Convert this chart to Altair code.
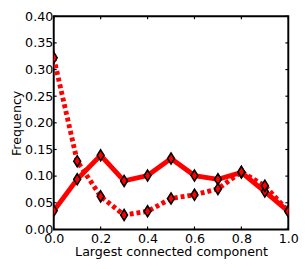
import altair as alt
import pandas as pd

x_vals = [0.0, 0.1, 0.2, 0.3, 0.4, 0.5, 0.6, 0.7, 0.8, 0.9, 1.0]
solid_vals = [0.035, 0.094, 0.139, 0.091, 0.101, 0.133, 0.101, 0.094, 0.107, 0.071, 0.034]
dotted_vals = [0.322, 0.128, 0.062, 0.027, 0.034, 0.058, 0.065, 0.076, 0.108, 0.082, 0.034]
x_ticks = [0.0, 0.2, 0.4, 0.6, 0.8, 1.0]
y_ticks = [0.0, 0.05, 0.10, 0.15, 0.20, 0.25, 0.30, 0.35, 0.40]

W, H = 241, 219

df = pd.DataFrame({
    "x": x_vals * 2,
    "y": solid_vals + dotted_vals,
    "series": ["solid"] * len(x_vals) + ["dotted"] * len(x_vals),
})
xt = pd.DataFrame({"x": x_ticks})
yt = pd.DataFrame({"y": y_ticks})

xs = alt.Scale(domain=[0, 1], nice=False, zero=False)
ys = alt.Scale(domain=[0, 0.4], nice=False, zero=False)

xaxis = alt.Axis(values=x_ticks, format=".1f", title="Largest connected component",
                 tickSize=0, domain=False, grid=False, labelPadding=3, titlePadding=1,
                 labelFlush=False, labelOverlap=False)
yaxis = alt.Axis(values=y_ticks, format=".2f", title="Frequency",
                 tickSize=0, domain=False, grid=False, labelPadding=1, titlePadding=1,
                 labelOverlap=False, labelFlush=False)

X = lambda f: alt.X(f, scale=xs, axis=xaxis)
Y = lambda f: alt.Y(f, scale=ys, axis=yaxis)

base = alt.Chart(df)

solid = base.transform_filter(alt.datum.series == "solid").mark_line(
    color="#ff0000", strokeWidth=5, clip=True
).encode(x=X("x:Q"), y=Y("y:Q"))

dotted = base.transform_filter(alt.datum.series == "dotted").mark_line(
    color="#ff0000", strokeWidth=5, strokeDash=[4, 3], clip=True
).encode(x=X("x:Q"), y=Y("y:Q"))

diamond = "M0,-1L0.62,0L0,1L-0.62,0Z"
pts = base.mark_point(
    shape=diamond, size=130, filled=True, fill="#ff0000", stroke="black",
    strokeWidth=1.6, opacity=1, clip=True
).encode(x=X("x:Q"), y=Y("y:Q"))

tb = alt.Chart(xt).mark_rule(color="black", strokeWidth=1.2).encode(
    x=X("x:Q"), y=alt.value(H), y2=alt.value(H - 3))
tt = alt.Chart(xt).mark_rule(color="black", strokeWidth=1.2).encode(
    x=X("x:Q"), y=alt.value(0), y2=alt.value(3))
tl = alt.Chart(yt).mark_rule(color="black", strokeWidth=1.2).encode(
    y=Y("y:Q"), x=alt.value(0), x2=alt.value(3))
tr = alt.Chart(yt).mark_rule(color="black", strokeWidth=1.2).encode(
    y=Y("y:Q"), x=alt.value(W), x2=alt.value(W - 3))

chart = alt.layer(solid, dotted, pts, tb, tt, tl, tr).properties(
    width=W, height=H,
    autosize=alt.AutoSizeParams(type="none"),
    padding={"left": 47, "top": 5, "right": 11, "bottom": 30},
).configure_view(
    stroke="black", strokeWidth=2
).configure_axis(
    labelFont="DejaVu Sans", titleFont="DejaVu Sans", labelFontSize=13,
    titleFontSize=13, labelColor="black", titleColor="black", titleFontWeight="normal"
)

chart.save("out.html", embed_options={"renderer": "svg", "actions": False})
